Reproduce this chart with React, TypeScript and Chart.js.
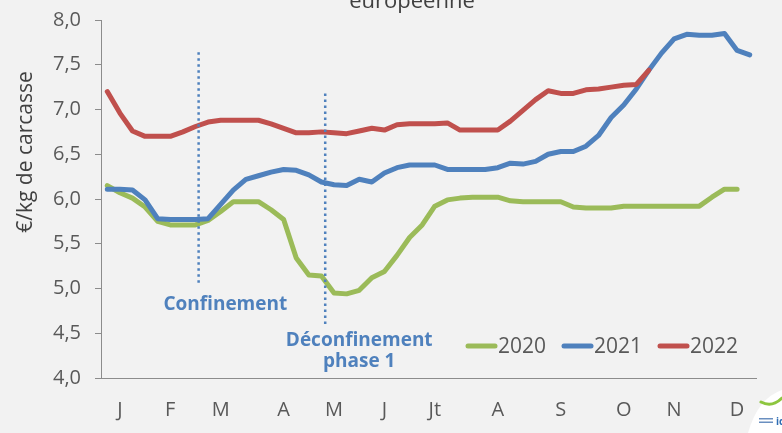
import React, { useEffect, useRef } from "react";
import { Chart, registerables } from "chart.js";

Chart.register(...registerables);

// Weekly categories (52 weeks)
const weeks: number[] = Array.from({ length: 52 }, (_, i) => i + 1);

// Month labels and the week at which each label is shown
const monthLabels = ["J", "F", "M", "A", "M", "J", "Jt", "A", "S", "O", "N", "D"];
const monthWeeks = [2, 6, 10, 15, 19, 23, 27, 32, 37, 42, 46, 51];

const series2020: (number | null)[] = [
  6.15, 6.07, 6.01, 5.91, 5.75, 5.71, 5.71, 5.71, 5.76, 5.86,
  5.97, 5.97, 5.97, 5.88, 5.77, 5.34, 5.15, 5.14, 4.95, 4.94,
  4.98, 5.12, 5.19, 5.37, 5.57, 5.71, 5.92, 5.99, 6.01, 6.02,
  6.02, 6.02, 5.98, 5.97, 5.97, 5.97, 5.97, 5.91, 5.90, 5.90,
  5.90, 5.92, 5.92, 5.92, 5.92, 5.92, 5.92, 5.92, 6.02, 6.11,
  6.11, null,
];

const series2021: number[] = [
  6.11, 6.11, 6.10, 5.99, 5.78, 5.77, 5.77, 5.77, 5.78, 5.94,
  6.10, 6.22, 6.26, 6.30, 6.33, 6.32, 6.27, 6.19, 6.16, 6.15,
  6.22, 6.19, 6.29, 6.35, 6.38, 6.38, 6.38, 6.33, 6.33, 6.33,
  6.33, 6.35, 6.40, 6.39, 6.42, 6.50, 6.53, 6.53, 6.59, 6.71,
  6.91, 7.05, 7.23, 7.44, 7.63, 7.79, 7.84, 7.83, 7.83, 7.85,
  7.66, 7.61,
];

const series2022: number[] = [
  7.20, 6.96, 6.76, 6.70, 6.70, 6.70, 6.75, 6.81, 6.86, 6.88,
  6.88, 6.88, 6.88, 6.84, 6.79, 6.74, 6.74, 6.75, 6.74, 6.73,
  6.76, 6.79, 6.77, 6.83, 6.84, 6.84, 6.84, 6.85, 6.77, 6.77,
  6.77, 6.77, 6.87, 6.99, 7.11, 7.21, 7.18, 7.18, 7.22, 7.23,
  7.25, 7.27, 7.28, 7.44,
];

const seriesNames = ["2020", "2021", "2022"];
const seriesColors = ["#9bbb59", "#4f81bd", "#c0504d"];

// Event markers (week position, top value, bottom value)
const eventWeeks = [8.25, 18.3];
const eventTop = [7.64, 7.18];
const eventBottom = [5.06, 4.59];
const eventTexts = [["Confinement"], ["Déconfinement", "phase 1"]];
const eventTextWeek = [10.37, 21.0];
const eventTextValue = [[4.82], [4.42, 4.18]];

const FONT = "'Open Sans', 'DejaVu Sans', sans-serif";
const GRAY = "#595959";
const AXIS = "#8c8c8c";

const decorPlugin = {
  id: "decor",
  beforeDraw(chart: any) {
    const { ctx, width, height } = chart;
    ctx.save();
    ctx.fillStyle = "#f2f2f2";
    ctx.fillRect(0, 0, width, height);
    ctx.restore();
  },
  afterDatasetsDraw(chart: any) {
    const { ctx } = chart;
    const xs = chart.scales.x;
    const ys = chart.scales.y;
    ctx.save();
    // dotted event lines
    ctx.strokeStyle = "#4f81bd";
    ctx.lineWidth = 2.5;
    ctx.setLineDash([2.5, 3.5]);
    eventWeeks.forEach((w, i) => {
      const x = xs.getPixelForValue(w - 1);
      ctx.beginPath();
      ctx.moveTo(x, ys.getPixelForValue(eventTop[i]));
      ctx.lineTo(x, ys.getPixelForValue(eventBottom[i]));
      ctx.stroke();
    });
    ctx.setLineDash([]);
    // event labels
    ctx.fillStyle = "#4f81bd";
    ctx.font = `bold 19px ${FONT}`;
    ctx.textAlign = "center";
    ctx.textBaseline = "middle";
    eventTexts.forEach((lines, i) => {
      const x = xs.getPixelForValue(eventTextWeek[i] - 1);
      lines.forEach((t, j) => {
        ctx.fillText(t, x, ys.getPixelForValue(eventTextValue[i][j]));
      });
    });
    ctx.restore();
  },
  afterDraw(chart: any) {
    const { ctx } = chart;
    ctx.save();
    // partially visible title
    ctx.fillStyle = "#404040";
    ctx.font = `22px ${FONT}`;
    ctx.textAlign = "center";
    ctx.textBaseline = "alphabetic";
    ctx.fillText("européenne", 412, 8);

    // y-axis title
    ctx.save();
    ctx.translate(26, 152);
    ctx.rotate(-Math.PI / 2);
    ctx.font = `21px ${FONT}`;
    ctx.fillStyle = "#404040";
    ctx.textAlign = "center";
    ctx.textBaseline = "middle";
    ctx.fillText("€/kg de carcasse", 0, 0);
    ctx.restore();

    // legend
    const ly = 346;
    let lx = 466;
    ctx.font = `21px ${FONT}`;
    ctx.textAlign = "left";
    ctx.textBaseline = "middle";
    seriesNames.forEach((name, i) => {
      ctx.strokeStyle = seriesColors[i];
      ctx.lineWidth = 5;
      ctx.lineCap = "round";
      ctx.beginPath();
      ctx.moveTo(lx + 2, ly);
      ctx.lineTo(lx + 29, ly);
      ctx.stroke();
      ctx.fillStyle = GRAY;
      ctx.fillText(name, lx + 32, ly + 1);
      lx += 96;
    });

    // logo corner
    ctx.fillStyle = "#ffffff";
    ctx.beginPath();
    ctx.moveTo(748, 433);
    ctx.quadraticCurveTo(758, 398, 782, 390);
    ctx.lineTo(782, 433);
    ctx.closePath();
    ctx.fill();
    ctx.strokeStyle = "#8dc63f";
    ctx.lineWidth = 3;
    ctx.lineCap = "round";
    ctx.beginPath();
    ctx.moveTo(761, 402);
    ctx.quadraticCurveTo(772, 408, 782, 398);
    ctx.stroke();
    ctx.fillStyle = "#2e6db4";
    ctx.font = `bold 10px ${FONT}`;
    ctx.fillText("id", 776, 422);
    ctx.fillStyle = "#6a8fc0";
    ctx.fillRect(759, 418, 14, 1.5);
    ctx.fillRect(759, 421.5, 14, 1.5);
    ctx.restore();
  },
};

export default function App() {
  const ref = useRef<HTMLCanvasElement | null>(null);

  useEffect(() => {
    document.body.style.margin = "0";
    document.body.style.background = "#f2f2f2";
    const canvas = ref.current;
    if (!canvas) return;
    const datasets = [series2020, series2021, series2022].map((d, i) => ({
      label: seriesNames[i],
      data: d,
      borderColor: seriesColors[i],
      backgroundColor: seriesColors[i],
      borderWidth: 5,
      pointRadius: 0,
      tension: 0,
      borderJoinStyle: "round" as const,
      borderCapStyle: "round" as const,
      fill: false,
      order: 3 - i,
    }));
    const chart = new Chart(canvas, {
      type: "line",
      data: { labels: weeks, datasets },
      plugins: [decorPlugin],
      options: {
        responsive: false,
        animation: false,
        layout: { padding: { top: 20, right: 26, left: 0, bottom: 0 } },
        plugins: {
          legend: { display: false },
          tooltip: { enabled: false },
          title: { display: false },
        },
        scales: {
          x: {
            type: "category",
            offset: true,
            grid: { display: false },
            border: { display: true, color: AXIS, width: 1 },
            ticks: {
              autoSkip: false,
              maxRotation: 0,
              color: GRAY,
              padding: 12,
              font: { family: FONT, size: 20 },
              callback: (_v: any, index: number) => {
                const k = monthWeeks.indexOf(index + 1);
                return k >= 0 ? monthLabels[k] : "";
              },
            },
            afterFit: (s: any) => {
              s.height = 55;
              s.paddingLeft = 0;
              s.paddingRight = 0;
            },
          },
          y: {
            min: 4,
            max: 8,
            grid: {
              display: true,
              drawOnChartArea: false,
              drawTicks: true,
              tickLength: 6,
              tickColor: AXIS,
            },
            border: { display: true, color: AXIS, width: 1 },
            ticks: {
              stepSize: 0.5,
              color: GRAY,
              padding: 14,
              font: { family: FONT, size: 20 },
              callback: (v: any) => Number(v).toFixed(1).replace(".", ","),
            },
            afterFit: (s: any) => {
              s.width = 101;
              s.paddingTop = 0;
              s.paddingBottom = 0;
            },
          },
        },
      },
    });
    return () => chart.destroy();
  }, []);

  return (
    <div style={{ width: 782, height: 433, background: "#f2f2f2" }}>
      <canvas ref={ref} width={782} height={433} style={{ display: "block", width: 782, height: 433 }} />
    </div>
  );
}
